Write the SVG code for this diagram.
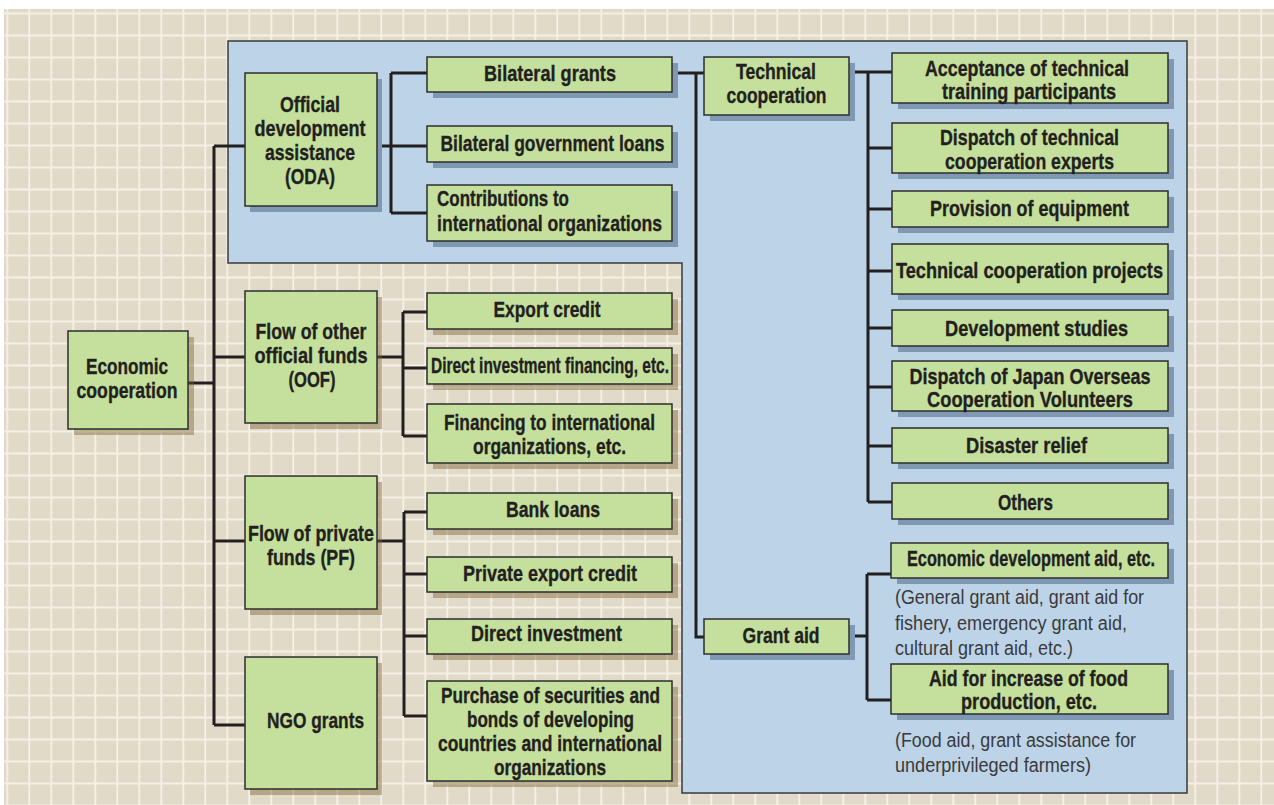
<svg xmlns="http://www.w3.org/2000/svg" width="1274" height="805" viewBox="0 0 1274 805">
<style>
.box{fill:#c5df9c;stroke:#2e2e2e;stroke-width:1.5}
.shb{fill:#7e99b1}
.shg{fill:#74602d;fill-opacity:0.42}
.t{font-family:"Liberation Sans",Arial,sans-serif;font-weight:bold;font-size:22px;fill:#231f20;stroke:#231f20;stroke-width:0.35}
.c{text-anchor:middle}
.g{font-family:"Liberation Sans",Arial,sans-serif;font-size:20px;fill:#3a3a3a}
.ln{fill:none;stroke:#231f20;stroke-width:3}
</style>
<defs>
<pattern id="grid" patternUnits="userSpaceOnUse" x="0" y="0" width="22" height="22">
<rect width="22" height="22" fill="#e2dac8"/>
<rect x="6.3" y="0" width="2" height="22" fill="#f4f0e6"/>
<rect x="0" y="12.5" width="22" height="2" fill="#f4f0e6"/>
</pattern>
</defs>
<rect x="0" y="0" width="1274" height="805" fill="#ffffff"/>
<rect x="4" y="9" width="1270" height="796" fill="url(#grid)"/>
<path id="oda-region" d="M228,41 H1187 V793 H682 V263 H228 Z" fill="#bdd4e8" stroke="#3a3a3a" stroke-width="1.5"/>

<g id="connectors">
<path class="ln" d="M188,383 H214 M214,146 V725 M214,146 H245 M214,357 H245 M214,541 H245 M214,725 H245"/>
<path class="ln" d="M377,146 H427 M391,73 V213 M391,73 H427 M391,213 H427"/>
<path class="ln" d="M377,357 H403 M403,312 V436 M403,312 H427 M403,368 H427 M403,436 H427"/>
<path class="ln" d="M377,541 H404 M404,512 V716 M404,512 H427 M404,574 H427 M404,636 H427 M404,716 H427"/>
<path class="ln" d="M672,73 H704 M696,73 V637 H704"/>
<path class="ln" d="M849,72 H892 M868,72 V502 M868,148 H892 M868,209 H892 M868,271 H892 M868,328 H892 M868,387 H892 M868,446 H892 M868,502 H892"/>
<path class="ln" d="M849,636 H867 M867,574 V700 M867,574 H891 M867,700 H891"/>
</g>

<g id="economic-cooperation">
<rect class="shg" x="74" y="337" width="120" height="98"/>
<rect class="box" x="68" y="331" width="120" height="98"/>
<text class="t c" x="127" y="374" textLength="82" lengthAdjust="spacingAndGlyphs">Economic</text>
<text class="t c" x="127" y="398" textLength="101" lengthAdjust="spacingAndGlyphs">cooperation</text>
</g>

<g id="oda">
<rect class="shb" x="250" y="79" width="132" height="133"/>
<rect class="box" x="245" y="73" width="132" height="133"/>
<text class="t c" x="310" y="112" textLength="60" lengthAdjust="spacingAndGlyphs">Official</text>
<text class="t c" x="310" y="136" textLength="111" lengthAdjust="spacingAndGlyphs">development</text>
<text class="t c" x="310" y="160" textLength="90" lengthAdjust="spacingAndGlyphs">assistance</text>
<text class="t c" x="310" y="184" textLength="50" lengthAdjust="spacingAndGlyphs">(ODA)</text>
</g>

<g id="oof">
<rect class="shg" x="250" y="297" width="132" height="132"/>
<rect class="box" x="245" y="291" width="132" height="132"/>
<text class="t c" x="311" y="339" textLength="111" lengthAdjust="spacingAndGlyphs">Flow of other</text>
<text class="t c" x="311" y="363" textLength="113" lengthAdjust="spacingAndGlyphs">official funds</text>
<text class="t c" x="312" y="387" textLength="47" lengthAdjust="spacingAndGlyphs">(OOF)</text>
</g>

<g id="pf">
<rect class="shg" x="250" y="482" width="132" height="133"/>
<rect class="box" x="245" y="476" width="132" height="133"/>
<text class="t c" x="311" y="541" textLength="126" lengthAdjust="spacingAndGlyphs">Flow of private</text>
<text class="t c" x="311" y="565" textLength="88" lengthAdjust="spacingAndGlyphs">funds (PF)</text>
</g>

<g id="ngo">
<rect class="shg" x="250" y="663" width="132" height="132"/>
<rect class="box" x="245" y="657" width="132" height="132"/>
<text class="t c" x="315.5" y="728" textLength="97" lengthAdjust="spacingAndGlyphs">NGO grants</text>
</g>

<g id="bilateral-grants">
<rect class="shb" x="433" y="63" width="245" height="35"/>
<rect class="box" x="427" y="57" width="245" height="35"/>
<text class="t c" x="550" y="81" textLength="132" lengthAdjust="spacingAndGlyphs">Bilateral grants</text>
</g>

<g id="bilateral-loans">
<rect class="shb" x="433" y="132" width="245" height="36"/>
<rect class="box" x="427" y="126" width="245" height="36"/>
<text class="t c" x="552.5" y="151" textLength="224" lengthAdjust="spacingAndGlyphs">Bilateral government loans</text>
</g>

<g id="contributions">
<rect class="shb" x="433" y="191" width="245" height="56"/>
<rect class="box" x="427" y="185" width="245" height="56"/>
<text class="t" x="437" y="206" textLength="132" lengthAdjust="spacingAndGlyphs">Contributions to</text>
<text class="t" x="437" y="231" textLength="225" lengthAdjust="spacingAndGlyphs">international organizations</text>
</g>

<g id="export-credit">
<rect class="shg" x="433" y="299" width="245" height="36"/>
<rect class="box" x="427" y="293" width="245" height="36"/>
<text class="t c" x="547" y="317" textLength="107" lengthAdjust="spacingAndGlyphs">Export credit</text>
</g>

<g id="direct-investment-financing">
<rect class="shg" x="433" y="354" width="245" height="36"/>
<rect class="box" x="427" y="348" width="245" height="36"/>
<text class="t c" x="550" y="373" textLength="238" lengthAdjust="spacingAndGlyphs">Direct investment financing, etc.</text>
</g>

<g id="financing-intl">
<rect class="shg" x="433" y="410" width="245" height="59"/>
<rect class="box" x="427" y="404" width="245" height="59"/>
<text class="t c" x="549.5" y="430" textLength="211" lengthAdjust="spacingAndGlyphs">Financing to international</text>
<text class="t c" x="549.5" y="454" textLength="153" lengthAdjust="spacingAndGlyphs">organizations, etc.</text>
</g>

<g id="bank-loans">
<rect class="shg" x="433" y="499" width="245" height="36"/>
<rect class="box" x="427" y="493" width="245" height="36"/>
<text class="t c" x="553" y="517" textLength="94" lengthAdjust="spacingAndGlyphs">Bank loans</text>
</g>

<g id="private-export-credit">
<rect class="shg" x="433" y="563" width="245" height="35"/>
<rect class="box" x="427" y="557" width="245" height="35"/>
<text class="t c" x="550" y="581" textLength="174" lengthAdjust="spacingAndGlyphs">Private export credit</text>
</g>

<g id="direct-investment">
<rect class="shg" x="433" y="625" width="245" height="35"/>
<rect class="box" x="427" y="619" width="245" height="35"/>
<text class="t c" x="546.5" y="641" textLength="151" lengthAdjust="spacingAndGlyphs">Direct investment</text>
</g>

<g id="purchase-securities">
<rect class="shg" x="433" y="687" width="245" height="100"/>
<rect class="box" x="427" y="681" width="245" height="100"/>
<text class="t c" x="550.5" y="703" textLength="219" lengthAdjust="spacingAndGlyphs">Purchase of securities and</text>
<text class="t c" x="550.5" y="727" textLength="167" lengthAdjust="spacingAndGlyphs">bonds of developing</text>
<text class="t c" x="550" y="751" textLength="224" lengthAdjust="spacingAndGlyphs">countries and international</text>
<text class="t c" x="550" y="775" textLength="112" lengthAdjust="spacingAndGlyphs">organizations</text>
</g>

<g id="technical-cooperation">
<rect class="shb" x="710" y="63" width="145" height="58"/>
<rect class="box" x="704" y="57" width="145" height="58"/>
<text class="t c" x="776" y="79" textLength="80" lengthAdjust="spacingAndGlyphs">Technical</text>
<text class="t c" x="776.5" y="103" textLength="100" lengthAdjust="spacingAndGlyphs">cooperation</text>
</g>

<g id="grant-aid">
<rect class="shb" x="710" y="625" width="145" height="35"/>
<rect class="box" x="704" y="619" width="145" height="35"/>
<text class="t c" x="781" y="643" textLength="77" lengthAdjust="spacingAndGlyphs">Grant aid</text>
</g>

<g id="acceptance-trainees">
<rect class="shb" x="898" y="59" width="276" height="50"/>
<rect class="box" x="892" y="53" width="276" height="50"/>
<text class="t c" x="1027" y="76" textLength="204" lengthAdjust="spacingAndGlyphs">Acceptance of technical</text>
<text class="t c" x="1029" y="99" textLength="174" lengthAdjust="spacingAndGlyphs">training participants</text>
</g>

<g id="dispatch-experts">
<rect class="shb" x="898" y="129" width="276" height="50"/>
<rect class="box" x="892" y="123" width="276" height="50"/>
<text class="t c" x="1029.5" y="145" textLength="179" lengthAdjust="spacingAndGlyphs">Dispatch of technical</text>
<text class="t c" x="1029.5" y="169" textLength="169" lengthAdjust="spacingAndGlyphs">cooperation experts</text>
</g>

<g id="provision-equipment">
<rect class="shb" x="898" y="197" width="276" height="36"/>
<rect class="box" x="892" y="191" width="276" height="36"/>
<text class="t c" x="1029.5" y="216" textLength="199" lengthAdjust="spacingAndGlyphs">Provision of equipment</text>
</g>

<g id="tc-projects">
<rect class="shb" x="898" y="250" width="276" height="50"/>
<rect class="box" x="892" y="244" width="276" height="50"/>
<text class="t c" x="1029.5" y="278" textLength="267" lengthAdjust="spacingAndGlyphs">Technical cooperation projects</text>
</g>

<g id="development-studies">
<rect class="shb" x="898" y="316" width="276" height="36"/>
<rect class="box" x="892" y="310" width="276" height="36"/>
<text class="t c" x="1036.5" y="336" textLength="183" lengthAdjust="spacingAndGlyphs">Development studies</text>
</g>

<g id="jocv">
<rect class="shb" x="898" y="367" width="276" height="50"/>
<rect class="box" x="892" y="361" width="276" height="50"/>
<text class="t c" x="1030" y="384" textLength="241" lengthAdjust="spacingAndGlyphs">Dispatch of Japan Overseas</text>
<text class="t c" x="1030" y="407" textLength="206" lengthAdjust="spacingAndGlyphs">Cooperation Volunteers</text>
</g>

<g id="disaster-relief">
<rect class="shb" x="898" y="434" width="276" height="35"/>
<rect class="box" x="892" y="428" width="276" height="35"/>
<text class="t c" x="1026.5" y="453" textLength="121" lengthAdjust="spacingAndGlyphs">Disaster relief</text>
</g>

<g id="others">
<rect class="shb" x="898" y="489" width="276" height="36"/>
<rect class="box" x="892" y="483" width="276" height="36"/>
<text class="t c" x="1025.5" y="510" textLength="55" lengthAdjust="spacingAndGlyphs">Others</text>
</g>

<g id="economic-development-aid">
<rect class="shb" x="897" y="549" width="277" height="35"/>
<rect class="box" x="891" y="543" width="277" height="35"/>
<text class="t c" x="1031" y="566" textLength="248" lengthAdjust="spacingAndGlyphs">Economic development aid, etc.</text>
<text class="g" x="895" y="604" textLength="249" lengthAdjust="spacingAndGlyphs">(General grant aid, grant aid for</text>
<text class="g" x="895" y="630" textLength="232" lengthAdjust="spacingAndGlyphs">fishery, emergency grant aid,</text>
<text class="g" x="895" y="655" textLength="178" lengthAdjust="spacingAndGlyphs">cultural grant aid, etc.)</text>
</g>

<g id="food-production-aid">
<rect class="shb" x="897" y="670" width="277" height="50"/>
<rect class="box" x="891" y="664" width="277" height="50"/>
<text class="t c" x="1028.5" y="686" textLength="199" lengthAdjust="spacingAndGlyphs">Aid for increase of food</text>
<text class="t c" x="1029" y="709" textLength="136" lengthAdjust="spacingAndGlyphs">production, etc.</text>
<text class="g" x="895" y="747" textLength="241" lengthAdjust="spacingAndGlyphs">(Food aid, grant assistance for</text>
<text class="g" x="895" y="772" textLength="196" lengthAdjust="spacingAndGlyphs">underprivileged farmers)</text>
</g>
</svg>
